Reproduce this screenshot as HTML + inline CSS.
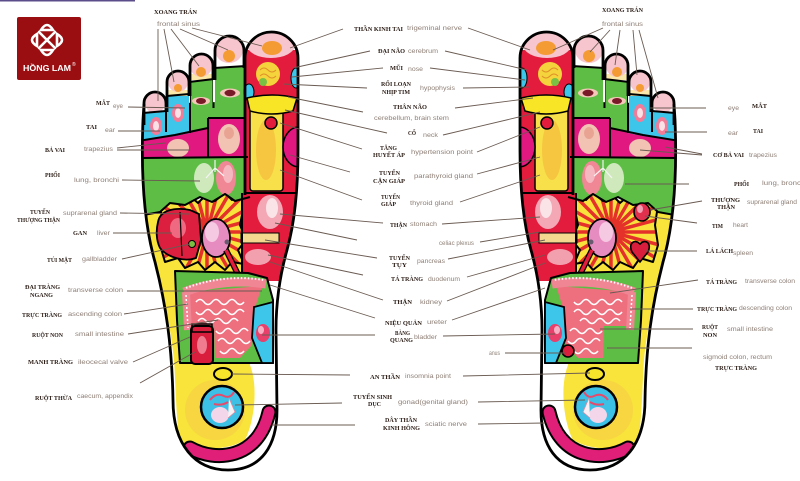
<!DOCTYPE html>
<html><head><meta charset="utf-8">
<style>
html,body{margin:0;padding:0;background:#fff;}
svg{display:block;}
.b{font-family:"Liberation Serif","Noto Serif CJK SC",serif;font-weight:bold;fill:#2b1d16;font-size:6.3px;}
.e{font-family:"Liberation Sans","Noto Sans CJK SC",sans-serif;fill:#8e7f76;font-size:6px;}
.l{stroke:#6a5b52;stroke-width:0.9;fill:none;}
.k{stroke:#000;stroke-width:2;fill:none;stroke-linejoin:round;}
</style></head><body>
<svg width="800" height="481" viewBox="0 0 800 481" xmlns="http://www.w3.org/2000/svg">
<defs>
<clipPath id="fc">
 <path d="M143 104 L143 120 C141 170 143 220 155 262 C166 305 172 345 173 400 C173 445 195 470 228 470 C262 470 277 445 277 410 L276 330 C276 300 280 275 287 250 C294 225 298 190 298 150 L298 100 Z"/>
 <rect x="144" y="92" width="22" height="60" rx="11"/>
 <rect x="167" y="71" width="22" height="60" rx="11"/>
 <rect x="190" y="54" width="23" height="70" rx="11.5"/>
 <rect x="215" y="36" width="29" height="80" rx="14.5"/>
 <rect x="245" y="32" width="53" height="100" rx="26"/>
</clipPath>
<clipPath id="sc">
 <polygon points="160,205 175,198 180,205 190,196 198,203 207,194 215,201 225,193 232,200 244,195 243,210 240,225 246,240 238,250 244,264 232,262 225,270 215,262 205,270 198,262 185,268 178,258 165,262 160,245 163,225"/>
</clipPath>
<g id="foot">
 <g clip-path="url(#fc)">
  <rect x="130" y="20" width="180" height="460" fill="#fff"/>
  <!-- yellow wash -->
  <path d="M145 200 L250 200 L250 365 C258 385 255 420 245 440 C225 452 195 450 180 442 C176 420 176 390 174 360 C170 320 160 280 150 250 Z" fill="#f8e43a"/>
  <ellipse cx="215" cy="410" rx="30" ry="30" fill="#f5c84a" opacity="0.5"/>
  <!-- sunburst -->
  <g clip-path="url(#sc)">
   <rect x="150" y="185" width="100" height="90" fill="#f9e23c"/>
   <path d="M207 232 L267 232 M207 232 L265 247.5 M207 232 L259 262 M207 232 L249.4 274.4 M207 232 L237 284 M207 232 L222.5 290 M207 232 L207 292 M207 232 L191.5 290 M207 232 L177 284 M207 232 L164.6 274.4 M207 232 L155 262 M207 232 L149 247.5 M207 232 L147 232 M207 232 L149 216.5 M207 232 L155 202 M207 232 L164.6 189.6 M207 232 L177 180 M207 232 L191.5 174 M207 232 L207 172 M207 232 L222.5 174 M207 232 L237 180 M207 232 L249.4 189.6 M207 232 L259 202 M207 232 L265 216.5" stroke="#e4322b" stroke-width="3.5"/>
  </g>
  <polygon class="k" points="160,205 175,198 180,205 190,196 198,203 207,194 215,201 225,193 232,200 244,195 243,210 240,225 246,240 238,250 244,264 232,262 225,270 215,262 205,270 198,262 185,268 178,258 165,262 160,245 163,225" stroke-width="1.5"/>
  <!-- green lung -->
  <path d="M138 152 L250 152 L250 197 L235 201 L225 194 L212 202 L200 197 L185 205 L170 203 L160 212 L138 216 Z" fill="#5dbd45"/>
  <ellipse cx="204" cy="178" rx="10" ry="15" fill="#cfe9bd"/>
  <ellipse cx="226" cy="178" rx="10" ry="17" fill="#ef8794"/>
  <ellipse cx="228" cy="174" rx="5" ry="9" fill="#f6b8c0"/>
  <path d="M215 160 L215 172 M215 168 L206 178 M215 168 L224 176" stroke="#f4f4f4" stroke-width="1.2" fill="none"/>
  <!-- magenta -->
  <path d="M138 141 L175 135 L208 128 L208 158 L138 158 Z" fill="#e0187f"/>
  <rect x="208" y="117" width="42" height="41" fill="#e0187f"/>
  <ellipse cx="178" cy="148" rx="11" ry="9" fill="#f2c2b3"/>
  <ellipse cx="229" cy="139" rx="11" ry="15" fill="#f2c2b3"/>
  <ellipse cx="229" cy="133" rx="5" ry="6" fill="#e9a393"/>
  <!-- cyan ear -->
  <path d="M138 113 L166 111 L166 96 L190 94 L190 133 L175 136 L138 141 Z" fill="#3ec5ea"/>
  <ellipse cx="156" cy="126" rx="6" ry="9" fill="#f27b98"/>
  <ellipse cx="156" cy="126" rx="3" ry="5" fill="#fbe0e6"/>
  <ellipse cx="178" cy="113" rx="6" ry="9" fill="#f27b98"/>
  <ellipse cx="178" cy="113" rx="3" ry="5" fill="#fbe0e6"/>
  <!-- green eye -->
  <path d="M189 82 L214 79 L214 68 L246 66 L246 118 L208 118 L208 128 L190 132 Z" fill="#5dbd45"/>
  <ellipse cx="201" cy="101" rx="9" ry="4" fill="#f3c8b8"/>
  <ellipse cx="201" cy="101" rx="5" ry="3" fill="#7a1a28"/>
  <ellipse cx="230" cy="93" rx="10" ry="4.5" fill="#f3c8b8"/>
  <ellipse cx="230" cy="93" rx="5.5" ry="3.2" fill="#7a1a28"/>
  <!-- toe tips -->
  <ellipse cx="155" cy="103" rx="10" ry="10" fill="#f7c5cd"/>
  <rect x="168" y="90" width="20" height="6" fill="#fbe8a8"/>
  <ellipse cx="178" cy="82" rx="10" ry="10" fill="#f7c5cd"/>
  <circle cx="178" cy="88" r="4" fill="#f49b34"/>
  <rect x="191" y="74" width="22" height="6" fill="#fbe8a8"/>
  <ellipse cx="201" cy="66" rx="11" ry="11" fill="#f7c5cd"/>
  <circle cx="201" cy="72" r="5" fill="#f49b34"/>
  <ellipse cx="229" cy="50" rx="14" ry="13" fill="#f7c5cd"/>
  <circle cx="229" cy="56" r="6" fill="#f49b34"/>
  <!-- big toe column -->
  <rect x="245" y="50" width="53" height="145" fill="#e31c3d"/>
  <ellipse cx="271" cy="45" rx="24" ry="13" fill="#f7c5cd"/>
  <ellipse cx="272" cy="48" rx="10" ry="7" fill="#f49b34"/>
  <circle cx="268" cy="74" r="12" fill="#f4d33c"/>
  <path d="M260 70 q4 -4 8 0 t8 0 M260 76 q4 -4 8 0 t8 0" stroke="#e0922a" stroke-width="1" fill="none"/>
  <circle cx="263" cy="82" r="4" fill="#79c043"/>
  <ellipse cx="296" cy="78" rx="5" ry="10" fill="#3ec5ea" stroke="#000" stroke-width="1"/>
  <ellipse cx="249" cy="92" rx="5" ry="8" fill="#3ec5ea" stroke="#000" stroke-width="1"/>
  <rect x="250" y="108" width="33" height="83" rx="3" fill="#f8e04a" stroke="#000" stroke-width="1.5"/>
  <ellipse cx="266" cy="150" rx="10" ry="30" fill="#f5b43a" opacity="0.6"/>
  <path d="M247 98 Q272 92 297 98 L293 111 Q272 117 250 111 Z" fill="#f8e525" stroke="#000" stroke-width="1.5"/>
  <circle cx="271" cy="123" r="6" fill="#e31c3d" stroke="#000" stroke-width="1.5"/>
  <path d="M299 127 A16 20 0 0 0 299 167 Z" fill="#e0187f" stroke="#000" stroke-width="1.5"/>
  <!-- red stomach region -->
  <rect x="242" y="193" width="58" height="88" fill="#e31c3d"/>
  <ellipse cx="270" cy="212" rx="13" ry="17" fill="#f4a7b4"/>
  <ellipse cx="272" cy="208" rx="6" ry="10" fill="#fbe4e8"/>
  <rect x="241" y="233" width="38" height="10" fill="#f4d890" stroke="#000" stroke-width="1"/>
  <ellipse cx="258" cy="257" rx="13" ry="8" fill="#f3a0ae"/>
  <path d="M242 193 L242 280" class="k"/>
  <path d="M245 193 L299 193" class="k"/>
  <!-- kidney -->
  <ellipse cx="216" cy="238" rx="14" ry="19" fill="#e68cc0" stroke="#000" stroke-width="1.8"/>
  <ellipse cx="212" cy="232" rx="7" ry="10" fill="#f6c9e2"/>
  <circle cx="227" cy="242" r="2.5" fill="#6a5a70"/>
  <path d="M226 250 L258 315" stroke="#000" stroke-width="6"/>
  <path d="M226 250 L258 315" stroke="#e31c3d" stroke-width="3.5"/>
  <!-- green intestine box -->
  <path d="M175 271 L248 273 L267 278 L273 300 L273 363 L180 363 L177 320 Z" fill="#5dbd45"/>
  <path d="M186 292 L262 286 L256 305 L252 345 L240 358 L215 358 L214 326 L190 326 Z" fill="#ee6f7e"/>
  <path d="M184 292 C210 282 240 280 266 284" stroke="#f08594" stroke-width="9" fill="none"/>
  <path d="M186 288 C212 278 240 276 264 280" stroke="#fff" stroke-width="2" stroke-dasharray="1.5 2" fill="none"/>
  <path d="M186 292 L188 330" stroke="#f08594" stroke-width="8"/>
  <path d="M186 295 L188 328" stroke="#fff" stroke-width="1.5" stroke-dasharray="2 2"/>
  <g stroke="#fff" stroke-width="1.6" fill="none">
   <path d="M196 302 q4 -5 8 0 t8 0 t8 0 t8 0 t8 0 t8 0"/>
   <path d="M196 312 q4 5 8 0 t8 0 t8 0 t8 0 t8 0 t8 0"/>
   <path d="M198 321 q4 -5 8 0 t8 0 t8 0 t8 0 t8 0"/>
   <path d="M216 331 q4 5 8 0 t8 0 t8 0 t8 0"/>
   <path d="M218 341 q4 -5 8 0 t8 0 t8 0 t8 0"/>
   <path d="M220 351 q4 5 8 0 t8 0 t8 0"/>
  </g>
  <path class="k" d="M175 271 L248 273 L267 278 L273 300 L273 363 L180 363 L177 320 Z" stroke-width="2.5"/>
  <!-- cyan bladder -->
  <path d="M254 307 L273 302 L273 363 L262 363 L252 338 Z" fill="#3ec5ea" stroke="#000" stroke-width="1.8"/>
  <ellipse cx="263" cy="333" rx="7" ry="9" fill="#e8406a"/>
  <ellipse cx="261" cy="330" rx="3" ry="4" fill="#f6b0c4"/>
  <!-- heel -->
  <ellipse cx="223" cy="374" rx="9" ry="6" fill="#f6e52a" stroke="#000" stroke-width="2"/>
  <circle cx="222" cy="407" r="21" fill="#3cc0e6" stroke="#000" stroke-width="2.5"/>
  <ellipse cx="220" cy="415" rx="9" ry="8" fill="#f3d6ea"/>
  <path d="M210 400 q6 -8 14 -4 q6 3 10 -4 M214 404 q8 2 14 -2" stroke="#e84a6a" stroke-width="2" fill="none"/>
  <path d="M229 398 L235 412 L228 418" fill="#f7f0f4" stroke="#e08aa0" stroke-width="0.8"/>
  <path d="M190 448 C215 462 258 460 269 412" stroke="#000" stroke-width="15" stroke-linecap="round" fill="none"/>
  <path d="M190 448 C215 462 258 460 269 412" stroke="#e01f78" stroke-width="11" stroke-linecap="round" fill="none"/>
  <!-- internal black lines -->
  <path class="k" d="M190 94 L190 133"/>
  <path class="k" d="M138 141 L175 135 L208 128"/>
  <path class="k" d="M208 118 L208 158"/>
  <path class="k" d="M208 118 L246 118"/>
  <path class="k" d="M189 82 L214 79"/>
  <path class="k" d="M214 68 L246 66"/>
  <path class="k" d="M143 113 L166 111"/>
  <path class="k" d="M167 96 L189 94"/>
  <path class="k" d="M166 111 L166 132"/>
  <path class="k" d="M213.5 79 L213.5 108"/>
  <path class="k" d="M138 158 L248 157"/>
  <path class="k" d="M250 197 L235 201 L225 194 L212 202 L200 197 L185 205 L170 203 L160 212 L138 216"/>
 </g>
 <!-- outlines -->
 <g fill="none" stroke="#000" stroke-width="2.8" stroke-linejoin="round">
  <path d="M144 104 L143 120 C141 170 143 220 155 262 C166 305 172 345 173 400 C173 445 195 470 228 470 C262 470 277 445 277 410 L276 330 C276 300 280 275 287 250 C294 225 298 190 298 150 L298 58"/>
  <path d="M144 125 L144 103 A11 11 0 0 1 166 103 L166 112"/>
  <path d="M167 112 L167 82 A11 11 0 0 1 189 82 L189 96"/>
  <path d="M190 96 L190 65.5 A11.5 11.5 0 0 1 213 65.5 L213 80"/>
  <path d="M215 80 L215 50.5 A14.5 14.5 0 0 1 244 50.5 L244 68"/>
  <path d="M245 195 L245 58 A26.5 26 0 0 1 298 58"/>
 </g>
</g>
</defs>

<rect width="800" height="481" fill="#fff"/>
<rect x="0" y="0" width="135" height="1.5" fill="#5b4c8a"/>

<!-- Logo -->
<rect x="17" y="17" width="64" height="63" rx="2" fill="#9a0e12"/>
<g stroke="#fff" stroke-width="2.6" fill="none" stroke-linecap="round">
 <path d="M39 32 L55 48 M55 32 L39 48"/>
 <path d="M41 30 Q47 20 53 30 Z"/>
 <path d="M41 50 Q47 60 53 50 Z"/>
 <path d="M37 34 Q27 40 37 46 Z"/>
 <path d="M57 34 Q67 40 57 46 Z"/>
</g>
<text x="23" y="71" font-family="Liberation Sans, sans-serif" font-weight="bold" font-size="8" fill="#fff" textLength="48" lengthAdjust="spacingAndGlyphs">HỒNG LAM</text>
<text x="72" y="66" font-family="Liberation Sans, sans-serif" font-size="5" fill="#fff">®</text>

<!-- Feet -->
<use href="#foot"/>
<!-- left-specific -->
<g>
 <path d="M158 222 C160 210 175 207 190 210 L199 214 L201 240 L196 258 C185 262 168 258 160 248 C156 240 156 230 158 222 Z" fill="#dc1f3f" stroke="#000" stroke-width="1.8"/>
 <ellipse cx="178" cy="228" rx="8" ry="10" fill="#ef6a80"/>
 <path d="M180 212 L182 256" stroke="#000" stroke-width="1.2"/>
 <circle cx="192" cy="244" r="3.5" fill="#7cc043" stroke="#000" stroke-width="1"/>
 <rect x="191" y="326" width="22" height="38" rx="4" fill="#d81e3c" stroke="#000" stroke-width="2"/>
 <rect x="192" y="324" width="20" height="8" fill="none" stroke="#000" stroke-width="1.5"/>
 <ellipse cx="202" cy="345" rx="5" ry="9" fill="#f07c90"/>
</g>
<use href="#foot" transform="matrix(-1 0 0 1 818 0)"/>
<!-- right-specific -->
<g>
 <ellipse cx="642" cy="212" rx="8" ry="9" fill="#e0304e" stroke="#000" stroke-width="1.6"/>
 <ellipse cx="640" cy="209" rx="3" ry="4" fill="#f3a0b4"/>
 <path d="M640 244 C646 238 652 244 648 252 L640 262 L632 252 C628 244 634 238 640 244 Z" fill="#d81e3c" stroke="#000" stroke-width="1.6"/>
 <circle cx="568" cy="351" r="6" fill="#d81e3c" stroke="#000" stroke-width="1.6"/>
</g>

<!-- Leader lines -->
<g class="l">
 <path d="M158 29 L158 101 M164 29 L174 82 M171 29 L199 66 M180 29 L228 50 M192 28 L262 46"/>
 <path d="M128 107 L185 108 M118 131 L160 131 M117 148 L165 143 M117 150 L190 150 M122 180 L200 181 M120 213 L190 214 M113 233 L172 233 M122 259 L190 244 M127 291 L262 291 M124 314 L188 304 M128 334 L218 320 M133 362 L190 337 M140 383 L195 352"/>
 <path d="M343 29 L290 48 M370 51 L293 68 M383 68 L292 77 M367 88 L283 84 M363 112 L288 97 M387 133 L285 110 M362 149 L280 123 M350 172 L290 155 M362 200 L280 170 M383 223 L280 214 M357 240 L275 223 M377 258 L265 240 M363 275 L268 255 M383 300 L270 262 M375 318 L270 285 M375 335 L262 335 M350 375 L232 374 M342 403 L235 405 M355 425 L272 425"/>
 <path d="M468 28 L530 50 M445 51 L527 70 M430 68 L525 80 M463 88 L530 87 M455 108 L533 98 M443 135 L540 112 M477 152 L540 127 M477 174 L540 157 M460 202 L540 175 M442 224 L540 217 M480 242 L540 232 M448 259 L545 240 M467 277 L545 255 M447 301 L545 263 M452 320 L545 288 M443 336 L555 334 M505 353 L565 353 M463 376 L590 373 M478 402 L585 400 M478 424 L545 423"/>
 <path d="M603 28 L553 50 M610 30 L590 52 M620 30 L615 65 M633 30 L637 75 M639 30 L658 98"/>
 <path d="M706 108 L650 108 M707 132 L665 132 M702 154 L665 147 M702 155 L640 150 M689 184 L625 184 M702 201 L650 210 M697 223 L645 216 M697 251 L645 251 M698 280 L610 293 M693 309 L630 309 M693 329 L600 329 M692 348 L607 348"/>
</g>

<!-- Left labels -->
<text class="b" x="154" y="14" textLength="43" lengthAdjust="spacingAndGlyphs">XOANG TRÁN</text>
<text class="e" x="157" y="26" textLength="43" lengthAdjust="spacingAndGlyphs">frontal sinus</text>
<text class="b" x="96" y="105" textLength="14" lengthAdjust="spacingAndGlyphs">MẮT</text>
<text class="e" x="113" y="108" textLength="10" lengthAdjust="spacingAndGlyphs">eye</text>
<text class="b" x="86" y="129" textLength="11" lengthAdjust="spacingAndGlyphs">TAI</text>
<text class="e" x="105" y="132" textLength="10" lengthAdjust="spacingAndGlyphs">ear</text>
<text class="b" x="45" y="152" textLength="20" lengthAdjust="spacingAndGlyphs">BẢ VAI</text>
<text class="e" x="84" y="151" textLength="29" lengthAdjust="spacingAndGlyphs">trapezius</text>
<text class="b" x="45" y="177" textLength="15" lengthAdjust="spacingAndGlyphs">PHỔI</text>
<text class="e" x="74" y="182" textLength="45" lengthAdjust="spacingAndGlyphs">lung, bronchi</text>
<text class="b" x="30" y="214" textLength="20" lengthAdjust="spacingAndGlyphs">TUYẾN</text>
<text class="b" x="17" y="222" textLength="43" lengthAdjust="spacingAndGlyphs">THƯỢNG THẬN</text>
<text class="e" x="63" y="215" textLength="54" lengthAdjust="spacingAndGlyphs">suprarenal gland</text>
<text class="b" x="73" y="235" textLength="14" lengthAdjust="spacingAndGlyphs">GAN</text>
<text class="e" x="97" y="235" textLength="13" lengthAdjust="spacingAndGlyphs">liver</text>
<text class="b" x="47" y="262" textLength="25" lengthAdjust="spacingAndGlyphs">TÚI MẬT</text>
<text class="e" x="82" y="261" textLength="35" lengthAdjust="spacingAndGlyphs">gallbladder</text>
<text class="b" x="25" y="289" textLength="35" lengthAdjust="spacingAndGlyphs">ĐẠI TRÀNG</text>
<text class="b" x="30" y="297" textLength="23" lengthAdjust="spacingAndGlyphs">NGANG</text>
<text class="e" x="68" y="292" textLength="55" lengthAdjust="spacingAndGlyphs">transverse colon</text>
<text class="b" x="22" y="317" textLength="40" lengthAdjust="spacingAndGlyphs">TRỰC TRÀNG</text>
<text class="e" x="68" y="316" textLength="54" lengthAdjust="spacingAndGlyphs">ascending colon</text>
<text class="b" x="32" y="337" textLength="31" lengthAdjust="spacingAndGlyphs">RUỘT NON</text>
<text class="e" x="75" y="336" textLength="49" lengthAdjust="spacingAndGlyphs">small intestine</text>
<text class="b" x="28" y="364" textLength="45" lengthAdjust="spacingAndGlyphs">MANH TRÀNG</text>
<text class="e" x="78" y="364" textLength="50" lengthAdjust="spacingAndGlyphs">ileocecal valve</text>
<text class="b" x="35" y="400" textLength="37" lengthAdjust="spacingAndGlyphs">RUỘT THỪA</text>
<text class="e" x="77" y="398" textLength="56" lengthAdjust="spacingAndGlyphs">caecum, appendix</text>

<!-- Center labels -->
<text class="b" x="354" y="31" textLength="49" lengthAdjust="spacingAndGlyphs">THẦN KINH TAI</text>
<text class="e" x="407" y="30" textLength="55" lengthAdjust="spacingAndGlyphs">trigeminal nerve</text>
<text class="b" x="378" y="53" textLength="27" lengthAdjust="spacingAndGlyphs">ĐẠI NÃO</text>
<text class="e" x="408" y="53" textLength="30" lengthAdjust="spacingAndGlyphs">cerebrum</text>
<text class="b" x="390" y="70" textLength="13" lengthAdjust="spacingAndGlyphs">MŨI</text>
<text class="e" x="408" y="71" textLength="15" lengthAdjust="spacingAndGlyphs">nose</text>
<text class="b" x="381" y="86" textLength="30" lengthAdjust="spacingAndGlyphs">RỐI LOẠN</text>
<text class="b" x="382" y="94" textLength="28" lengthAdjust="spacingAndGlyphs">NHỊP TIM</text>
<text class="e" x="420" y="90" textLength="35" lengthAdjust="spacingAndGlyphs">hypophysis</text>
<text class="b" x="393" y="109" textLength="34" lengthAdjust="spacingAndGlyphs">THÂN NÃO</text>
<text class="e" x="374" y="120" textLength="75" lengthAdjust="spacingAndGlyphs">cerebellum, brain stem</text>
<text class="b" x="408" y="135" textLength="8" lengthAdjust="spacingAndGlyphs">CỔ</text>
<text class="e" x="423" y="137" textLength="15" lengthAdjust="spacingAndGlyphs">neck</text>
<text class="b" x="380" y="150" textLength="17" lengthAdjust="spacingAndGlyphs">TĂNG</text>
<text class="b" x="373" y="157" textLength="32" lengthAdjust="spacingAndGlyphs">HUYẾT ÁP</text>
<text class="e" x="411" y="154" textLength="62" lengthAdjust="spacingAndGlyphs">hypertension point</text>
<text class="b" x="379" y="175" textLength="21" lengthAdjust="spacingAndGlyphs">TUYẾN</text>
<text class="b" x="373" y="183" textLength="32" lengthAdjust="spacingAndGlyphs">CẬN GIÁP</text>
<text class="e" x="414" y="178" textLength="59" lengthAdjust="spacingAndGlyphs">parathyroid gland</text>
<text class="b" x="381" y="199" textLength="19" lengthAdjust="spacingAndGlyphs">TUYẾN</text>
<text class="b" x="381" y="206" textLength="15" lengthAdjust="spacingAndGlyphs">GIÁP</text>
<text class="e" x="410" y="205" textLength="43" lengthAdjust="spacingAndGlyphs">thyroid gland</text>
<text class="b" x="390" y="227" textLength="17" lengthAdjust="spacingAndGlyphs">THẬN</text>
<text class="e" x="410" y="226" textLength="27" lengthAdjust="spacingAndGlyphs">stomach</text>
<text class="e" x="439" y="245" textLength="35" lengthAdjust="spacingAndGlyphs">celiac plexus</text>
<text class="b" x="389" y="260" textLength="21" lengthAdjust="spacingAndGlyphs">TUYẾN</text>
<text class="b" x="392" y="267" textLength="15" lengthAdjust="spacingAndGlyphs">TỤY</text>
<text class="e" x="417" y="263" textLength="28" lengthAdjust="spacingAndGlyphs">pancreas</text>
<text class="b" x="391" y="281" textLength="32" lengthAdjust="spacingAndGlyphs">TÁ TRÀNG</text>
<text class="e" x="428" y="281" textLength="32" lengthAdjust="spacingAndGlyphs">duodenum</text>
<text class="b" x="393" y="304" textLength="19" lengthAdjust="spacingAndGlyphs">THẬN</text>
<text class="e" x="420" y="304" textLength="22" lengthAdjust="spacingAndGlyphs">kidney</text>
<text class="b" x="385" y="325" textLength="37" lengthAdjust="spacingAndGlyphs">NIỆU QUẢN</text>
<text class="e" x="427" y="324" textLength="20" lengthAdjust="spacingAndGlyphs">ureter</text>
<text class="b" x="395" y="335" textLength="15" lengthAdjust="spacingAndGlyphs">BÀNG</text>
<text class="b" x="390" y="342" textLength="23" lengthAdjust="spacingAndGlyphs">QUANG</text>
<text class="e" x="414" y="339" textLength="23" lengthAdjust="spacingAndGlyphs">bladder</text>
<text class="e" x="489" y="355" textLength="11" lengthAdjust="spacingAndGlyphs">anus</text>
<text class="b" x="370" y="379" textLength="30" lengthAdjust="spacingAndGlyphs">AN THẦN</text>
<text class="e" x="405" y="378" textLength="46" lengthAdjust="spacingAndGlyphs">insomnia point</text>
<text class="b" x="353" y="399" textLength="39" lengthAdjust="spacingAndGlyphs">TUYẾN SINH</text>
<text class="b" x="368" y="406" textLength="13" lengthAdjust="spacingAndGlyphs">DỤC</text>
<text class="e" x="398" y="404" textLength="70" lengthAdjust="spacingAndGlyphs">gonad(genital gland)</text>
<text class="b" x="385" y="422" textLength="32" lengthAdjust="spacingAndGlyphs">DÂY THẦN</text>
<text class="b" x="383" y="430" textLength="37" lengthAdjust="spacingAndGlyphs">KINH HÔNG</text>
<text class="e" x="425" y="426" textLength="42" lengthAdjust="spacingAndGlyphs">sciatic nerve</text>

<!-- Right labels -->
<text class="b" x="602" y="12" textLength="41" lengthAdjust="spacingAndGlyphs">XOANG TRÁN</text>
<text class="e" x="602" y="26" textLength="41" lengthAdjust="spacingAndGlyphs">frontal sinus</text>
<text class="e" x="728" y="110" textLength="11" lengthAdjust="spacingAndGlyphs">eye</text>
<text class="b" x="752" y="108" textLength="15" lengthAdjust="spacingAndGlyphs">MẮT</text>
<text class="e" x="728" y="135" textLength="10" lengthAdjust="spacingAndGlyphs">ear</text>
<text class="b" x="753" y="133" textLength="10" lengthAdjust="spacingAndGlyphs">TAI</text>
<text class="b" x="713" y="157" textLength="31" lengthAdjust="spacingAndGlyphs">CƠ BẢ VAI</text>
<text class="e" x="749" y="157" textLength="28" lengthAdjust="spacingAndGlyphs">trapezius</text>
<text class="b" x="734" y="186" textLength="15" lengthAdjust="spacingAndGlyphs">PHỔI</text>
<text class="e" x="762" y="185" textLength="45" lengthAdjust="spacingAndGlyphs">lung, bronchi</text>
<text class="b" x="711" y="202" textLength="29" lengthAdjust="spacingAndGlyphs">THƯỢNG</text>
<text class="b" x="717" y="209" textLength="18" lengthAdjust="spacingAndGlyphs">THẬN</text>
<text class="e" x="747" y="204" textLength="50" lengthAdjust="spacingAndGlyphs">suprarenal gland</text>
<text class="b" x="712" y="228" textLength="11" lengthAdjust="spacingAndGlyphs">TIM</text>
<text class="e" x="733" y="227" textLength="15" lengthAdjust="spacingAndGlyphs">heart</text>
<text class="b" x="706" y="253" textLength="27" lengthAdjust="spacingAndGlyphs">LÁ LÁCH</text>
<text class="e" x="733" y="255" textLength="20" lengthAdjust="spacingAndGlyphs">spleen</text>
<text class="b" x="706" y="284" textLength="31" lengthAdjust="spacingAndGlyphs">TÁ TRÀNG</text>
<text class="e" x="745" y="283" textLength="50" lengthAdjust="spacingAndGlyphs">transverse colon</text>
<text class="b" x="697" y="311" textLength="40" lengthAdjust="spacingAndGlyphs">TRỰC TRÀNG</text>
<text class="e" x="739" y="310" textLength="53" lengthAdjust="spacingAndGlyphs">descending colon</text>
<text class="b" x="702" y="329" textLength="16" lengthAdjust="spacingAndGlyphs">RUỘT</text>
<text class="b" x="703" y="337" textLength="14" lengthAdjust="spacingAndGlyphs">NON</text>
<text class="e" x="727" y="331" textLength="46" lengthAdjust="spacingAndGlyphs">small intestine</text>
<text class="e" x="703" y="359" textLength="69" lengthAdjust="spacingAndGlyphs">sigmoid colon, rectum</text>
<text class="b" x="715" y="370" textLength="42" lengthAdjust="spacingAndGlyphs">TRỰC TRÀNG</text>
</svg>
</body></html>
